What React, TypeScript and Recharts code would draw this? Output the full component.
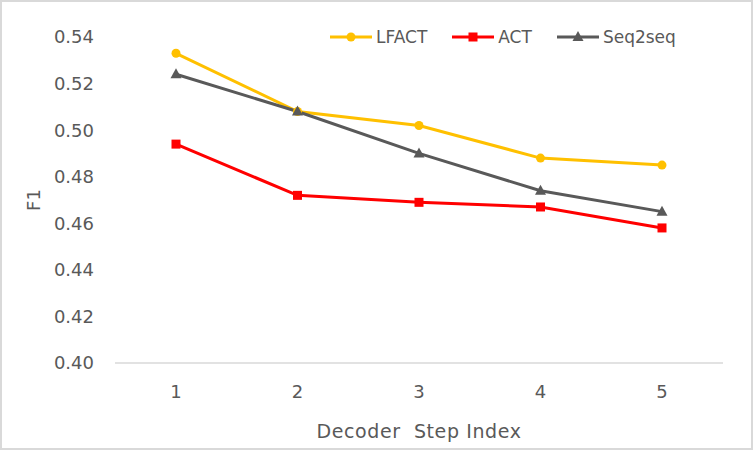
import { LineChart, Line, XAxis, YAxis, Legend } from "recharts";

const steps = ["1", "2", "3", "4", "5"];
const lfact = [0.533, 0.508, 0.502, 0.488, 0.485];
const act = [0.494, 0.472, 0.469, 0.467, 0.458];
const seq2seq = [0.524, 0.508, 0.49, 0.474, 0.465];
const yTicks = [0.4, 0.42, 0.44, 0.46, 0.48, 0.5, 0.52, 0.54];

const data = steps.map((step, i) => ({
  step,
  LFACT: lfact[i],
  ACT: act[i],
  Seq2seq: seq2seq[i],
}));

const FONT = "'DejaVu Sans', sans-serif";
const TEXT = "#595959";

const series = [
  { key: "LFACT", color: "#FFC000", shape: "circle" },
  { key: "ACT", color: "#FF0000", shape: "square" },
  { key: "Seq2seq", color: "#595959", shape: "triangle" },
];

// marker glyphs shared by lines and legend
function Marker({ cx, cy, shape, color }: any) {
  if (cx == null || cy == null) return null;
  if (shape === "circle") return <circle cx={cx} cy={cy} r={4.5} fill={color} />;
  if (shape === "square")
    return <rect x={cx - 4.5} y={cy - 4.5} width={9} height={9} fill={color} />;
  return (
    <polygon
      points={`${cx},${cy - 6} ${cx + 5.5},${cy + 4} ${cx - 5.5},${cy + 4}`}
      fill={color}
    />
  );
}

function LegendBox() {
  return (
    <div style={{ display: "flex", fontFamily: FONT, fontSize: 17, color: TEXT }}>
      {series.map((s) => (
        <div
          key={s.key}
          style={{ display: "flex", alignItems: "center", marginRight: 23 }}
        >
          <svg width={46} height={16}>
            <line x1={2} y1={8} x2={44} y2={8} stroke={s.color} strokeWidth={3} />
            <Marker cx={23} cy={8} shape={s.shape} color={s.color} />
          </svg>
          <span style={{ marginLeft: 2 }}>{s.key}</span>
        </div>
      ))}
    </div>
  );
}

export default function App() {
  return (
    <div style={{ position: "absolute", left: 0, top: 0, width: 753, height: 450 }}>
      <LineChart
        width={753}
        height={450}
        data={data}
        margin={{ top: 37, right: 30, bottom: 27, left: 0 }}
        style={{ background: "#fff" }}
      >
        <XAxis
          dataKey="step"
          padding={{ left: 61, right: 61 }}
          axisLine={{ stroke: "#d9d9d9", strokeWidth: 1.5 }}
          tickLine={false}
          tickMargin={16}
          height={60}
          tick={{ fill: TEXT, fontSize: 18, fontFamily: FONT }}
          label={{
            content: ({ viewBox }: any) => (
              <text
                x={viewBox.x + viewBox.width / 2}
                y={438}
                textAnchor="middle"
                fill={TEXT}
                fontSize={19}
                fontFamily={FONT}
                letterSpacing={0.6}
                style={{ whiteSpace: "pre" }}
              >
                {"Decoder  Step Index"}
              </text>
            ),
          }}
        />
        <YAxis
          width={115}
          domain={[0.4, 0.54]}
          ticks={yTicks}
          tickFormatter={(v: number) => v.toFixed(2)}
          axisLine={false}
          tickLine={false}
          tickMargin={15}
          tick={{ fill: TEXT, fontSize: 18, fontFamily: FONT }}
          label={{
            content: ({ viewBox }: any) => {
              const cy = viewBox.y + viewBox.height / 2;
              return (
                <text
                  x={33}
                  y={cy}
                  transform={`rotate(-90, 33, ${cy})`}
                  textAnchor="middle"
                  dominantBaseline="central"
                  fill={TEXT}
                  fontSize={18}
                  fontFamily={FONT}
                >
                  F1
                </text>
              );
            },
          }}
        />
        <Legend
          verticalAlign="middle"
          content={() => <LegendBox />}
          wrapperStyle={{ top: 27, left: 328, width: 420 }}
        />
        {series.map((s) => (
          <Line
            key={s.key}
            dataKey={s.key}
            stroke={s.color}
            strokeWidth={3}
            isAnimationActive={false}
            dot={(p: any) => (
              <Marker key={p.index} cx={p.cx} cy={p.cy} shape={s.shape} color={s.color} />
            )}
            activeDot={false}
          />
        ))}
      </LineChart>
      <div
        style={{
          position: "absolute",
          inset: 0,
          border: "2px solid #d9d9d9",
          pointerEvents: "none",
        }}
      />
    </div>
  );
}
